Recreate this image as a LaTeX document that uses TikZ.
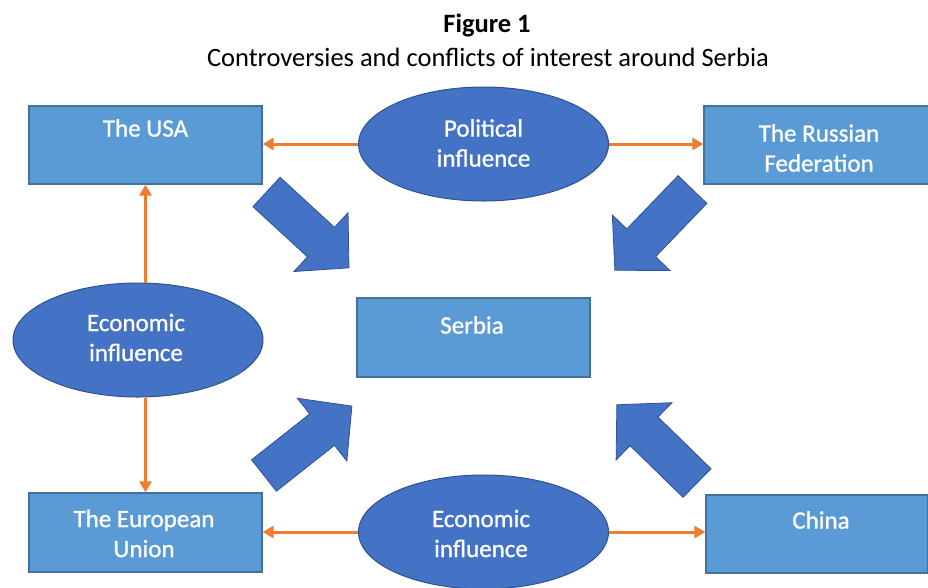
\documentclass[tikz,border=0pt]{standalone}
\usepackage{fontspec}
\setmainfont{Carlito}
\newfontfamily\boxfont[FakeBold=0.9]{Carlito}
\usetikzlibrary{shapes.geometric,arrows.meta}
\definecolor{boxfill}{HTML}{5B9BD5}
\definecolor{boxline}{HTML}{41719C}
\definecolor{ellfill}{HTML}{4472C4}
\definecolor{ellline}{HTML}{2F528F}
\definecolor{orng}{HTML}{ED7D31}
\tikzset{
  cbox/.style={draw=boxline, line width=1.3pt, fill=boxfill, rectangle, inner sep=0pt},
  cell/.style={draw=ellline, line width=1pt, fill=ellfill, ellipse, inner sep=0pt, minimum width=250pt, minimum height=114pt},
  wtxt/.style={text=white, font=\boxfont\fontsize{25}{30}\selectfont, align=center, inner sep=0pt},
  oarr/.style={draw=orng, line width=3pt, -{Triangle[length=11pt,width=12pt]}},
  fat/.style={fill=ellfill, draw=ellline, line width=0.8pt, line join=miter},
}
\newcommand{\fatarrow}[3]{%
  \begin{scope}[shift={(#1,#2)}, rotate=#3]
    \path[fat] (0,-20) -- (74,-20) -- (74,-40) -- (112,0) -- (74,40) -- (74,20) -- (0,20) -- cycle;
  \end{scope}}
\begin{document}
\begin{tikzpicture}[x=1pt,y=-1pt]
\useasboundingbox (0,0) rectangle (928,587);
% title
\node[font=\fontsize{26.5}{30}\selectfont\bfseries, inner sep=0pt] (t1) at (487,25) {Figure 1};
\node[font=\fontsize{26.5}{30}\selectfont, inner sep=0pt] (t2) at (488,57) {Controversies and conflicts of interest around Serbia};
% boxes
\node[cbox, minimum width=233pt, minimum height=78pt] (usa) at (145.5,145) {};
\node[cbox, minimum width=226pt, minimum height=78pt] (rus) at (817,145) {};
\node[cbox, minimum width=233pt, minimum height=79pt] (srb) at (473.5,337.5) {};
\node[cbox, minimum width=233pt, minimum height=79pt] (eu) at (145.5,532.5) {};
\node[cbox, minimum width=222pt, minimum height=78pt] (chn) at (817,534) {};
\node[wtxt] (usaT) at (145.5,128) {The USA};
\node[wtxt] (rusT) at (819,148) {The Russian\\Federation};
\node[wtxt] (srbT) at (472,325) {Serbia};
\node[wtxt] (euT) at (144,533.5) {The European\\Union};
\node[wtxt] (chnT) at (821,520) {China};
% ellipses
\node[cell] (pol) at (483.5,144) {};
\node[cell] (eco) at (138,340) {};
\node[cell] (ecb) at (483.5,532) {};
\node[wtxt] (polT) at (483.5,143) {Political\\influence};
\node[wtxt] (ecoT) at (136,337.5) {Economic\\influence};
\node[wtxt] (ecbT) at (481,533.5) {Economic\\influence};
% orange connectors
\draw[oarr] (pol.west) -- (pol.west -| usa.east);
\draw[oarr] (pol.east) -- (pol.east -| rus.west);
\draw[oarr] (usa.south |- eco.north) -- (usa.south);
\draw[oarr] (eu.north |- eco.south) -- (eu.north);
\draw[oarr] (ecb.west) -- (ecb.west -| eu.east);
\draw[oarr] (ecb.east) -- (ecb.east -| chn.west);
% block arrows
\fatarrow{266.5}{192}{-42.6}
\fatarrow{692.5}{189.5}{-133.9}
\fatarrow{264}{475.5}{38.3}
\fatarrow{697}{483}{135.7}
\end{tikzpicture}
\end{document}
